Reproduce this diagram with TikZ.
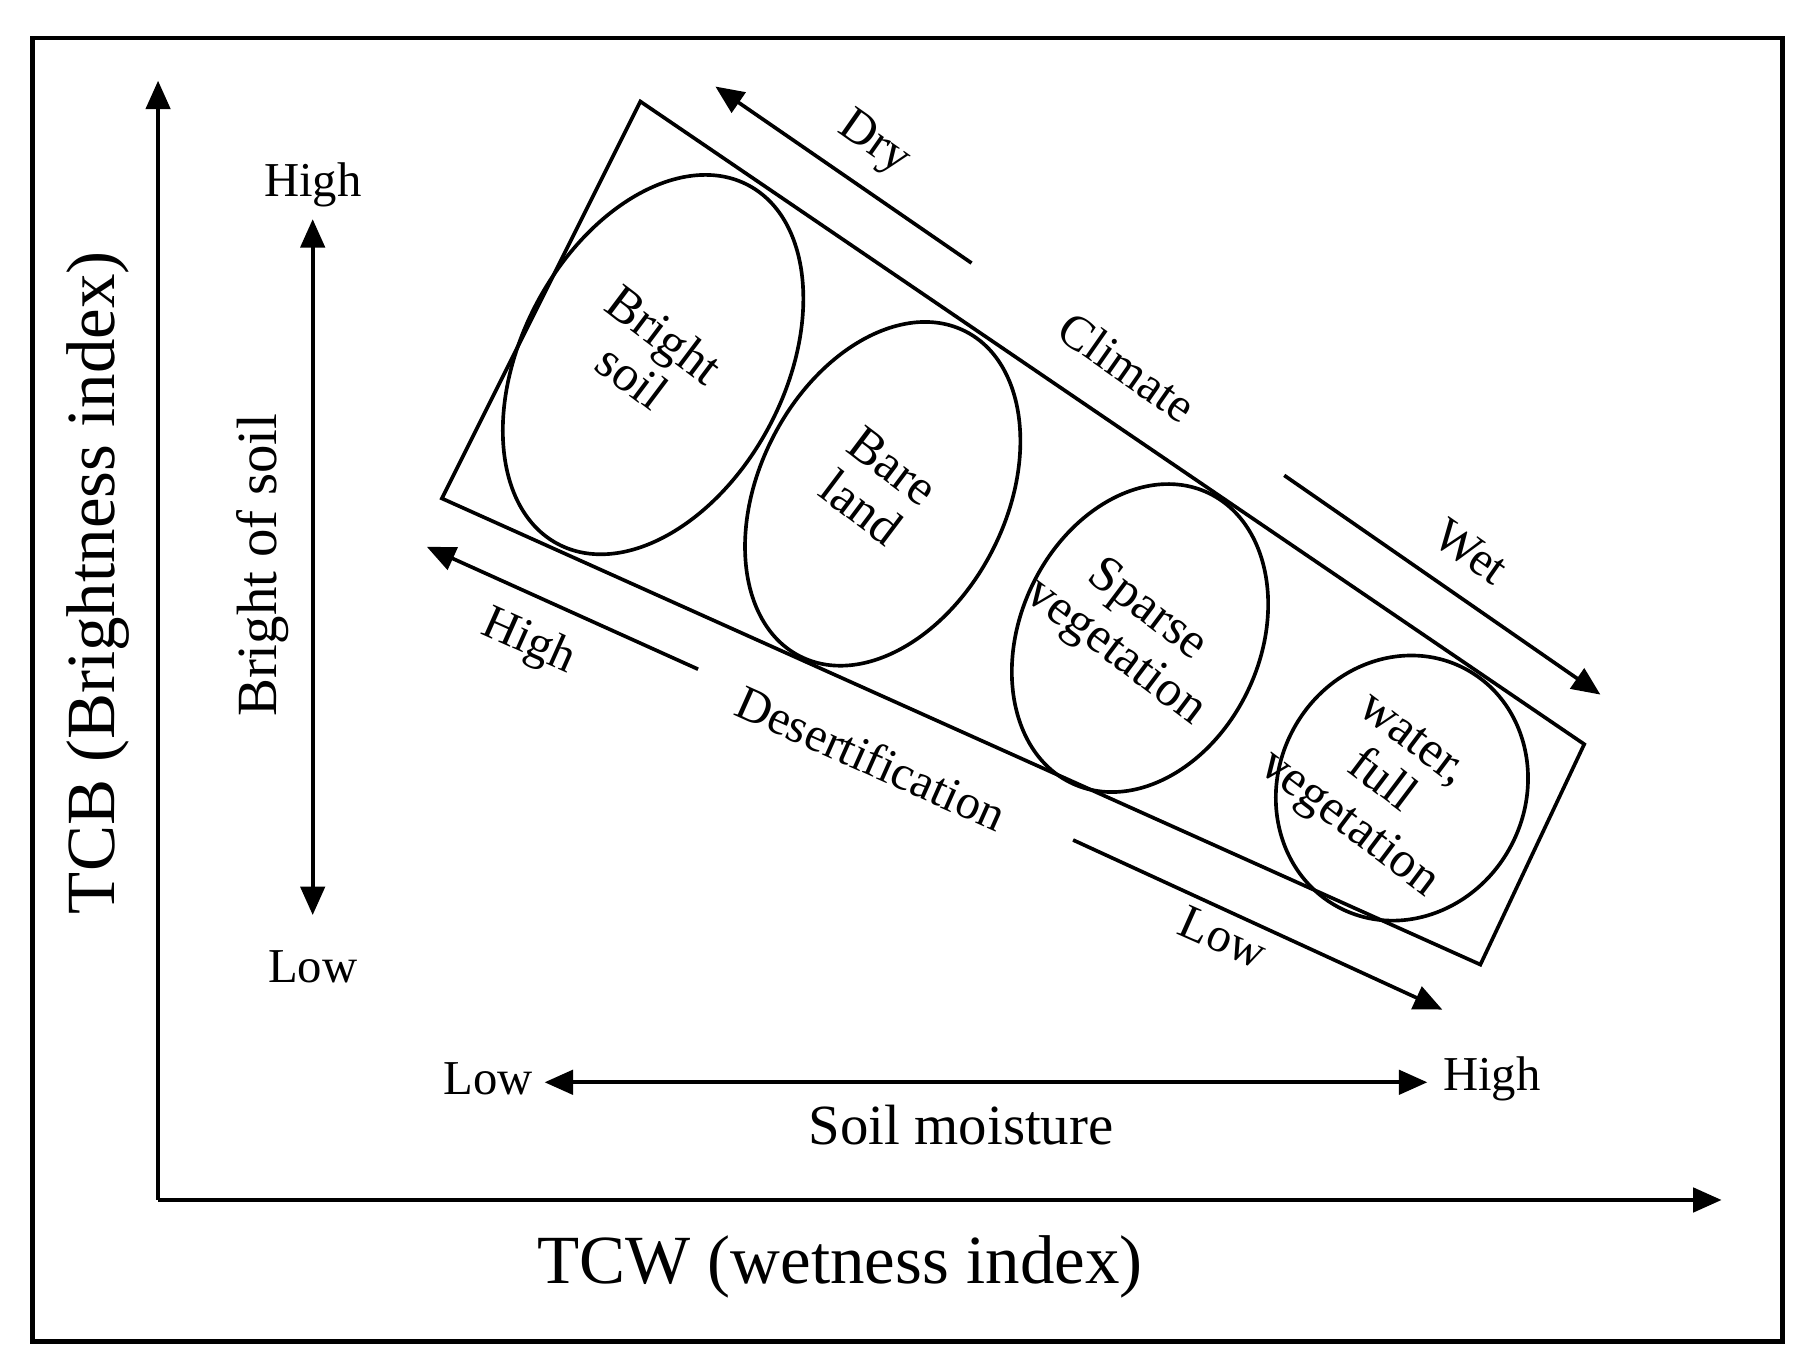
\documentclass[tikz,border=0pt]{standalone}
\usepackage{fontspec}
\setmainfont{Liberation Serif}
\usetikzlibrary{arrows.meta}
\begin{document}
\begin{tikzpicture}[x=0.01cm,y=0.01cm,line width=0.9pt,
  tip/.style={-{Triangle[length=7pt,width=6pt]}},
  both/.style={{Triangle[length=7pt,width=6pt]}-{Triangle[length=7pt,width=6pt]}},
  sm/.style={font=\fontsize{12}{12}\selectfont},
  inel/.style={font=\fontsize{12.5}{13}\selectfont,align=center,rotate=-37}]
\useasboundingbox (0,0) rectangle (1560,1188);
\draw[line width=1.2pt] (28,25) rectangle (1545,1155);
\coordinate (O) at (137,148);
\coordinate (Y) at (137,1118);
\coordinate (X) at (1492,148);
\draw[tip] (O) -- (Y);
\draw[tip] (O) -- (X);
\draw (555,1100) -- (1373,543) -- (1283,352) -- (383,756) -- cycle;
\draw (566,872) ellipse [x radius=114, y radius=176, rotate=-28];
\draw (765,760) ellipse [x radius=107, y radius=158, rotate=-27];
\draw (988,635) ellipse [x radius=104, y radius=139, rotate=-25];
\draw (1215,505) ellipse [x radius=107, y radius=117, rotate=-28];
\node[inel] (e1) at (562,880) {Bright\\soil};
\node[inel] (e2) at (760,766) {Bare\\land};
\node[inel] (e3) at (980,640) {Sparse\\vegetation};
\node[inel] (e4) at (1195,508) {water,\\full\\vegetation};
\coordinate (d1) at (842,960); \coordinate (d2) at (620,1113);
\draw[tip] (d1) -- (d2);
\coordinate (w1) at (1113,776); \coordinate (w2) at (1387,586);
\draw[tip] (w1) -- (w2);
\coordinate (h1) at (605,608); \coordinate (h2) at (370,714);
\draw[tip] (h1) -- (h2);
\coordinate (l1) at (930,460); \coordinate (l2) at (1250,313);
\draw[tip] (l1) -- (l2);
\coordinate (b1) at (271,998); \coordinate (b2) at (271,395);
\draw[both] (b1) -- (b2);
\coordinate (s1) at (472,250); \coordinate (s2) at (1237,250);
\draw[both] (s1) -- (s2);
\node[sm] (bh) at (271,1028) {High};
\node[sm] (bl) at (271,350) {Low};
\node[font=\fontsize{14}{14}\selectfont,rotate=90] (bs) at (228,698) {Bright of soil};
\node[font=\fontsize{17}{17}\selectfont,rotate=90] (tcb) at (85,683) {TCB (Brightness index)};
\node[sm] (sl) at (423,253) {Low};
\node[sm] (sh) at (1293,253) {High};
\node[font=\fontsize{14}{14}\selectfont] (smo) at (833,213) {Soil moisture};
\node[font=\fontsize{17}{17}\selectfont] (tcw) at (728,90) {TCW (wetness index)};
\node[sm,rotate=-35] (dry) at (757,1063) {Dry};
\node[sm,rotate=-35] (cl) at (977,870) {Climate};
\node[sm,rotate=-35] (wet) at (1275,710) {Wet};
\node[sm,rotate=-24] (hi) at (458,631) {High};
\node[sm,rotate=-24] (des) at (755,531) {Desertification};
\node[sm,rotate=-24] (lo) at (1060,376) {Low};
\end{tikzpicture}
\end{document}
